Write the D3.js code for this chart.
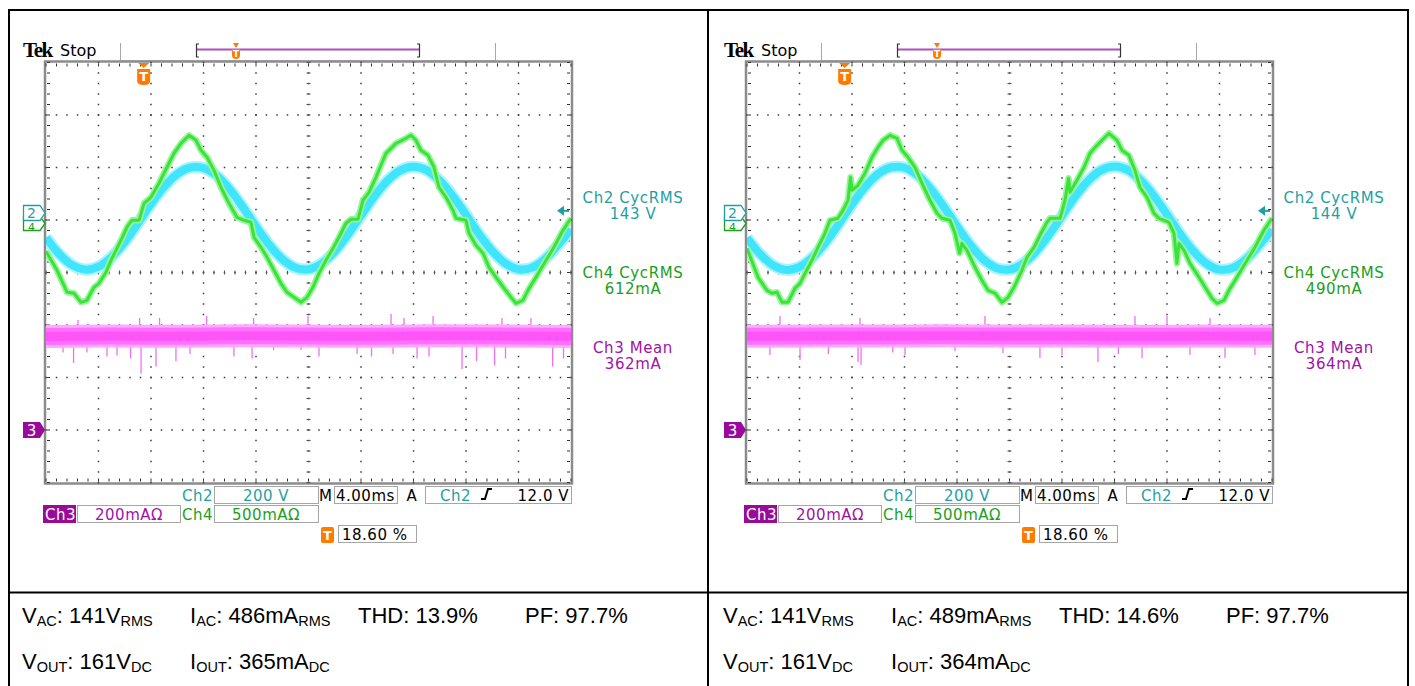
<!DOCTYPE html>
<html><head><meta charset="utf-8">
<script src="https://cdn.jsdelivr.net/npm/d3@7"></script>
<style>body{margin:0;background:#fff}svg{display:block}</style>
</head><body>
<svg id="c" width="1415" height="686"></svg>
<script>
// ---------------- DATA ----------------
// time axis: 10 divisions x 4.00 ms ; trigger at 18.60 %
const timeSpanMs = 40;
const trigPosPct = 18.60;
const trigLevelV = 12.0;

// Ch2 (line voltage, V) sampled every 1 ms from left edge
const ch2TimeMs = [0,1,2,3,4,5,6,7,8,9,10,11,12,13,14,15,16,17,18,19,20,21,22,23,24,25,26,27,28,29,30,31,32,33,34,35,36,37,38,39,40];
const ch2VoltsA = [-67,-129,-172,-189,-178,-141,-84,-13,61,126,175,200,198,169,117,49,-25,-94,-149,-182,-188,-166,-120,-56,17,89,149,189,203,190,150,91,20,-54,-118,-165,-188,-182,-150,-96,-35];
const ch2VoltsB = [-68,-130,-173,-190,-179,-142,-85,-14,60,126,176,201,199,170,118,50,-24,-94,-150,-183,-189,-167,-121,-57,16,89,150,190,204,191,151,92,21,-53,-118,-166,-189,-183,-151,-97,-36];

// Ch4 (input current, mA)
const ch4TimeA = [0,0.84,1.60,2.13,2.67,3.12,3.66,4.04,4.57,4.95,5.33,5.71,6.17,6.55,7.09,7.47,8.00,8.61,9.22,9.75,10.29,10.90,11.43,11.81,12.27,12.80,13.33,13.94,14.55,15.09,15.62,15.85,16.38,16.84,17.37,17.90,18.36,18.90,19.43,19.89,20.34,20.80,21.33,21.87,22.32,22.86,23.24,23.77,24.15,24.61,25.14,25.90,26.67,27.43,27.81,28.19,28.57,29.10,29.56,29.94,30.48,31.01,31.24,32.00,32.23,32.76,33.30,33.75,34.29,34.90,35.43,35.81,36.34,36.72,37.33,38.10,38.70,39.39,40.00];
const ch4mA_A = [-298,-479,-688,-698,-784,-765,-641,-603,-498,-384,-289,-193,-69,-3,-3,159,216,350,502,635,730,807,759,664,597,473,312,159,26,-3,-22,-165,-260,-355,-479,-603,-688,-736,-784,-736,-641,-508,-384,-270,-165,-31,7,7,188,264,407,635,730,778,807,759,664,616,502,312,216,92,16,-3,-127,-241,-317,-450,-546,-650,-736,-793,-765,-670,-546,-384,-260,-98,16];
const ch4TimeB = [0,0.84,1.52,1.90,2.29,2.67,3.12,3.66,4.04,4.42,4.95,5.41,5.94,6.32,6.93,7.31,7.70,7.89,8.00,8.46,8.99,9.52,9.98,10.36,10.90,11.43,11.81,12.27,12.80,13.33,13.94,14.48,14.86,15.47,15.85,16.19,16.38,16.76,17.37,17.90,18.36,18.90,19.43,19.89,20.34,20.95,21.33,21.87,22.32,22.86,23.09,23.85,24.23,24.50,24.61,25.14,25.68,26.13,26.67,27.20,27.58,28.19,28.57,29.10,29.56,29.94,30.48,31.01,31.39,32.15,32.53,32.76,32.91,33.30,33.75,34.44,35.05,35.43,35.81,36.34,36.72,37.33,38.10,38.70,39.39,40.00];
const ch4mA_B = [-270,-546,-670,-698,-688,-784,-784,-650,-603,-508,-384,-260,-127,-3,16,92,188,407,283,330,445,597,692,759,807,778,664,597,502,350,188,64,16,-3,-127,-317,-222,-289,-450,-574,-670,-698,-784,-736,-641,-479,-355,-260,-146,-22,16,16,188,397,264,378,502,635,711,778,826,759,664,616,473,312,216,64,16,-22,-127,-413,-222,-289,-413,-546,-670,-746,-793,-765,-670,-546,-384,-260,-98,16];

// Ch3 (output current, mA): band centre and visible spikes
const ch3BandTime = [0,5,10,15,20,25,30,35,40];
const ch3BandA = [356,358,357,359,358,357,359,358,356];
const ch3BandB = [357,358,358,359,358,358,357,358,357];
const ch3SpikeTimeA = [1.30,2.10,3.12,4.65,5.41,6.44,7.24,8.38,9.90,10.97,14.32,15.70,17.34,19.43,20.80,23.70,24.80,26.44,28.27,29.18,31.70,32.80,34.18,35.01,38.60,39.43,2.44,7.13,8.65,12.24,15.82,19.96,26.29,27.28,29.49,34.74,36.95];
const ch3SpikeA = [295,255,295,280,284,272,214,242,262,290,280,272,305,305,280,290,280,290,272,280,232,262,246,272,242,272,419,427,427,434,427,434,442,427,434,427,427];
const ch3SpikeTimeB = [1.75,4.04,8.46,8.69,12.04,15.85,22.32,24.00,26.74,30.10,33.75,36.42,38.70,6.20,11.10,19.50,28.30,2.51,8.61,18.13,29.56,32.00,35.28];
const ch3SpikeB = [286,267,259,248,286,300,274,286,259,274,286,274,286,290,295,292,290,434,427,434,434,434,427];

// on-screen readouts
const measLabels = ["Ch2 CycRMS","Ch4 CycRMS","Ch3 Mean"];
const measValuesA = ["143 V","612mA","362mA"];
const measValuesB = ["144 V","490mA","364mA"];
const scaleCh2 = "200 V", scaleCh3 = "200mA\u03A9", scaleCh4 = "500mA\u03A9", timeBase = "4.00ms", trigText = "12.0 V", trigPosText = "18.60 %";

// table below
const tblA = {vac:"141", iac:"486", thd:"13.9%", pf:"97.7%", vout:"161", iout:"365"};
const tblB = {vac:"141", iac:"489", thd:"14.6%", pf:"97.7%", vout:"161", iout:"364"};

// ---------------- DRAW ----------------
const svg = d3.select('#c');
const GX = 46, GY = 62.5, W = 525, H = 420, DIV = 52.5;
const TEAL = '#1fa0a4', GRN = '#1c9e1c', PUR = '#a012a8', ORG = '#ff7b00';
const sFont = 'DejaVu Sans, sans-serif';

// outer table
const frame = svg.append('g').attr('stroke','#000').attr('stroke-width',2);
frame.append('line').attr('x1',8).attr('x2',1409).attr('y1',10).attr('y2',10);
frame.append('line').attr('x1',9).attr('x2',9).attr('y1',9).attr('y2',686);
frame.append('line').attr('x1',708).attr('x2',708).attr('y1',9).attr('y2',686);
frame.append('line').attr('x1',1408).attr('x2',1408).attr('y1',9).attr('y2',686);
frame.append('line').attr('x1',8).attr('x2',1409).attr('y1',592.5).attr('y2',592.5);

function tMarker(g, cx, top, w, h, fs){
  g.append('path').attr('d',`M${cx-w/2+1},${top} L${cx+w/2-1},${top} L${cx},${top+5} Z`).attr('fill',ORG);
  const t = top+6, b = t+h;
  g.append('path').attr('d',`M${cx-w/2},${t} H${cx+w/2} V${b-4} Q${cx+w/2},${b} ${cx},${b} Q${cx-w/2},${b} ${cx-w/2},${b-4} Z`).attr('fill',ORG);
  g.append('text').attr('x',cx).attr('y',t+h*0.78).attr('text-anchor','middle').attr('fill','#fff')
    .attr('font-family',sFont).attr('font-weight','bold').attr('font-size',fs).text('T');
}

function panel(off, d, id){
  const g = svg.append('g').attr('transform',`translate(${off},0)`);
  const x = d3.scaleLinear().domain([0,timeSpanMs]).range([GX,GX+W]);
  const y2 = d3.scaleLinear().domain([-1000,600]).range([GY+H,GY]);   // 200 V/div
  const y4 = d3.scaleLinear().domain([-2500,1500]).range([GY+H,GY]);  // 500 mA/div
  const y3 = d3.scaleLinear().domain([-200,1400]).range([GY+H,GY]);   // 200 mA/div

  // header
  g.append('text').attr('x',23).attr('y',57).attr('font-family','Liberation Serif, serif').attr('font-weight','bold')
    .attr('font-size',21).attr('letter-spacing',-1.4).attr('fill','#000').text('Tek');
  g.append('text').attr('x',60).attr('y',56).attr('font-family',sFont).attr('font-size',16).attr('fill','#000').text('Stop');
  const hg = g.append('g').attr('stroke','#a8a8a8').attr('stroke-width',1);
  hg.append('line').attr('x1',120.5).attr('x2',120.5).attr('y1',43).attr('y2',61);
  hg.append('line').attr('x1',495.5).attr('x2',495.5).attr('y1',43).attr('y2',61);
  hg.append('line').attr('x1',120).attr('x2',496).attr('y1',60.5).attr('y2',60.5).attr('stroke','#d0d0d0');
  g.append('line').attr('x1',197).attr('x2',419).attr('y1',49.5).attr('y2',49.5).attr('stroke','#b24cc4').attr('stroke-width',2);
  g.append('path').attr('d','M199,44 H196.5 V57 H199 M417,44 H419.5 V57 H417').attr('fill','none').attr('stroke','#333').attr('stroke-width',1.2);
  tMarker(g, 236, 43, 8, 10, 9);

  // grid
  const gg = g.append('g');
  gg.append('rect').attr('x',GX-1).attr('y',GY-1).attr('width',W+2).attr('height',H+2)
    .attr('fill','#fff').attr('stroke','#8c8c8c').attr('stroke-width',2.5);
  const majX = d3.range(0, timeSpanMs+0.01, 4);
  const minX = d3.range(0, timeSpanMs+0.01, 0.8);
  const majY = d3.range(0, H+0.01, DIV);
  const minY = d3.range(0, H+0.01, DIV/5);
  const dots = [];
  majX.slice(1,-1).forEach(t => minY.forEach(v => dots.push([x(t), GY+v])));
  majY.slice(1,-1).forEach(v => minX.forEach(t => dots.push([x(t), GY+v])));
  gg.selectAll('rect.dot').data(dots).join('rect').attr('class','dot')
    .attr('x',p=>p[0]-0.75).attr('y',p=>p[1]-0.75).attr('width',1.5).attr('height',1.5).attr('fill','#3a3a3a');
  // centre crosshair ticks
  const cx = x(timeSpanMs/2), cy = GY + 4*DIV;
  gg.selectAll('line.ctx').data(minY).join('line').attr('class','ctx')
    .attr('x1',cx-2).attr('x2',cx+2).attr('y1',v=>GY+v).attr('y2',v=>GY+v).attr('stroke','#555').attr('stroke-width',1);
  gg.selectAll('line.cty').data(minX).join('line').attr('class','cty')
    .attr('x1',t=>x(t)).attr('x2',t=>x(t)).attr('y1',cy-2).attr('y2',cy+2).attr('stroke','#555').attr('stroke-width',1);
  // border ticks
  const bt = [];
  minX.forEach(t => { bt.push([x(t),GY+1,x(t),GY+4]); bt.push([x(t),GY+H-4,x(t),GY+H-1]); });
  minY.forEach(v => { bt.push([GX+1,GY+v,GX+4,GY+v]); bt.push([GX+W-4,GY+v,GX+W-1,GY+v]); });
  gg.selectAll('line.bt').data(bt).join('line').attr('class','bt')
    .attr('x1',p=>p[0]).attr('y1',p=>p[1]).attr('x2',p=>p[2]).attr('y2',p=>p[3]).attr('stroke','#333').attr('stroke-width',1);

  // clip
  g.append('clipPath').attr('id','clip'+id).append('rect').attr('x',GX).attr('y',GY).attr('width',W).attr('height',H);
  const tr = g.append('g').attr('clip-path',`url(#clip${id})`);

  // Ch3 band and spikes
  const bandLine = d3.line().x((t,i)=>x(t)).y((t,i)=>y3(d.band[i])).curve(d3.curveMonotoneX);
  const spikeG = tr.append('g');
  spikeG.selectAll('line').data(d.spT).join('line')
    .attr('x1',t=>x(t)).attr('x2',t=>x(t))
    .attr('y1',(t,i)=>y3(d3.mean(d.band)))
    .attr('y2',(t,i)=>y3(d.sp[i]))
    .attr('stroke','#f070f0').attr('stroke-width',1.3);
  tr.append('path').datum(ch3BandTime).attr('d',bandLine).attr('fill','none').attr('stroke','#ffa8ff').attr('stroke-width',23);
  tr.append('path').datum(ch3BandTime).attr('d',bandLine).attr('fill','none').attr('stroke','#ff70ff').attr('stroke-width',17);
  tr.append('path').datum(ch3BandTime).attr('d',bandLine).attr('fill','none').attr('stroke','#ff55f8').attr('stroke-width',9);

  // Ch2 trace
  const l2 = d3.line().x((t)=>x(t)).y((t,i)=>y2(d.v2[i])).curve(d3.curveCatmullRom);
  tr.append('path').datum(ch2TimeMs).attr('d',l2).attr('fill','none').attr('stroke','#a8f3ff').attr('stroke-width',12);
  tr.append('path').datum(ch2TimeMs).attr('d',l2).attr('fill','none').attr('stroke','#40e4fb').attr('stroke-width',8);

  // Ch4 trace
  const l4 = d3.line().x((t)=>x(t)).y((t,i)=>y4(d.i4[i]));
  tr.append('path').datum(d.t4).attr('d',l4).attr('fill','none').attr('stroke','#9af49a').attr('stroke-width',6.5).attr('stroke-linejoin','round');
  tr.append('path').datum(d.t4).attr('d',l4).attr('fill','none').attr('stroke','#3be23b').attr('stroke-width',3).attr('stroke-linejoin','round');

  // trigger position marker
  tMarker(g, x(timeSpanMs*trigPosPct/100), 63, 13, 16, 13);

  // channel ground markers
  const m4 = y4(0)+3.5, m2 = y2(0)-7, m3 = y3(0);
  g.append('path').attr('d',`M23.5,${m4-7} H40 L45,${m4} L40,${m4+7} H23.5 Z`).attr('fill','#fff').attr('stroke',GRN).attr('stroke-width',1.3);
  g.append('text').attr('x',31.5).attr('y',m4+7).attr('text-anchor','middle').attr('font-family',sFont).attr('font-size',11).attr('fill',GRN).text('4');
  g.append('path').attr('d',`M23.5,${m2-7.5} H40 L45,${m2} L40,${m2+7.5} H23.5 Z`).attr('fill','#fff').attr('stroke',TEAL).attr('stroke-width',1.3);
  g.append('text').attr('x',31.5).attr('y',m2+5).attr('text-anchor','middle').attr('font-family',sFont).attr('font-size',14).attr('fill',TEAL).text('2');
  g.append('path').attr('d',`M23,${m3-8} H40 L45,${m3} L40,${m3+8} H23 Z`).attr('fill','#9a0a9a');
  g.append('text').attr('x',31.5).attr('y',m3+6).attr('text-anchor','middle').attr('font-family',sFont).attr('font-size',15).attr('fill','#fff').text('3');

  // trigger level arrow
  const ty = y2(trigLevelV) - 6;
  g.append('path').attr('d',`M557,${ty} L564,${ty-5} L564,${ty+5} Z`).attr('fill',TEAL);
  g.append('line').attr('x1',563).attr('x2',569).attr('y1',ty).attr('y2',ty).attr('stroke',TEAL).attr('stroke-width',2);

  // measurement readouts
  const mcol = [TEAL, GRN, PUR], mY = [203, 278, 353];
  measLabels.forEach((lab,i)=>{
    g.append('text').attr('x',633).attr('y',mY[i]).attr('text-anchor','middle').attr('font-family',sFont)
      .attr('font-size',15).attr('letter-spacing',0.6).attr('fill',mcol[i]).text(lab);
    g.append('text').attr('x',633).attr('y',mY[i]+16).attr('text-anchor','middle').attr('font-family',sFont)
      .attr('font-size',15).attr('letter-spacing',0.6).attr('fill',mcol[i]).text(d.meas[i]);
  });

  // status boxes
  const box = (x0,y0,w,h)=>g.append('rect').attr('x',x0+0.5).attr('y',y0+0.5).attr('width',w).attr('height',h).attr('fill','#fff').attr('stroke','#a6a6a6').attr('stroke-width',1);
  const txt = (xx,yy,s,col,anchor)=>g.append('text').attr('x',xx).attr('y',yy).attr('text-anchor',anchor||'start')
      .attr('font-family',sFont).attr('font-size',15).attr('letter-spacing',0.5).attr('fill',col).text(s);
  box(214,486,104,17); box(334,486,63,17); box(425,486,146,17);
  box(77,505,103,17); box(214,505,104,17); box(338,525,78,17);
  txt(182,501,'Ch2',TEAL); txt(266,501,scaleCh2,TEAL,'middle');
  txt(319,501,'M','#000'); txt(336,501,timeBase,'#000');
  txt(412,501,'A','#000','middle'); txt(440,501,'Ch2',TEAL);
  g.append('path').attr('d','M481,499 H485 L488,489 H492').attr('fill','none').attr('stroke','#000').attr('stroke-width',2);
  txt(569,501,trigText,'#000','end');
  g.append('rect').attr('x',43).attr('y',505).attr('width',33).attr('height',18).attr('fill','#990a99');
  txt(45,520,'Ch3','#fff');
  txt(129,520,scaleCh3,PUR,'middle'); txt(182,520,'Ch4',GRN); txt(266,520,scaleCh4,GRN,'middle');
  g.append('rect').attr('x',321).attr('y',527).attr('width',13).attr('height',16).attr('rx',2).attr('fill',ORG);
  g.append('text').attr('x',327.5).attr('y',540).attr('text-anchor','middle').attr('font-family',sFont).attr('font-weight','bold').attr('font-size',13).attr('fill','#fff').text('T');
  txt(342,540,trigPosText,'#000');

  // table text
  const tf = 'Liberation Sans, Arial, sans-serif';
  const row = (xx,yy,parts)=>{
    const t = svg.append('text').attr('x',xx+off).attr('y',yy).attr('font-family',tf).attr('font-size',22).attr('fill','#000');
    let sub=false;
    parts.forEach(p=>{
      const isSub = p[1]===1;
      const ts = t.append('tspan').text(p[0]);
      if(isSub){ ts.attr('font-size',14.5); if(!sub){ts.attr('dy',3);} sub=true; }
      else { if(sub){ts.attr('dy',-3);} sub=false; }
    });
  };
  row(22,623,[['V'],['AC',1],[': '+d.tb.vac+'V'],['RMS',1]]);
  row(190,623,[['I'],['AC',1],[': '+d.tb.iac+'mA'],['RMS',1]]);
  row(358,623,[['THD: '+d.tb.thd]]);
  row(525,623,[['PF: '+d.tb.pf]]);
  row(22,669,[['V'],['OUT',1],[': '+d.tb.vout+'V'],['DC',1]]);
  row(190,669,[['I'],['OUT',1],[': '+d.tb.iout+'mA'],['DC',1]]);
}

panel(0, {v2:ch2VoltsA, t4:ch4TimeA, i4:ch4mA_A, band:ch3BandA, spT:ch3SpikeTimeA, sp:ch3SpikeA, meas:measValuesA, tb:tblA}, 'A');
panel(701, {v2:ch2VoltsB, t4:ch4TimeB, i4:ch4mA_B, band:ch3BandB, spT:ch3SpikeTimeB, sp:ch3SpikeB, meas:measValuesB, tb:tblB}, 'B');
</script>
</body></html>
